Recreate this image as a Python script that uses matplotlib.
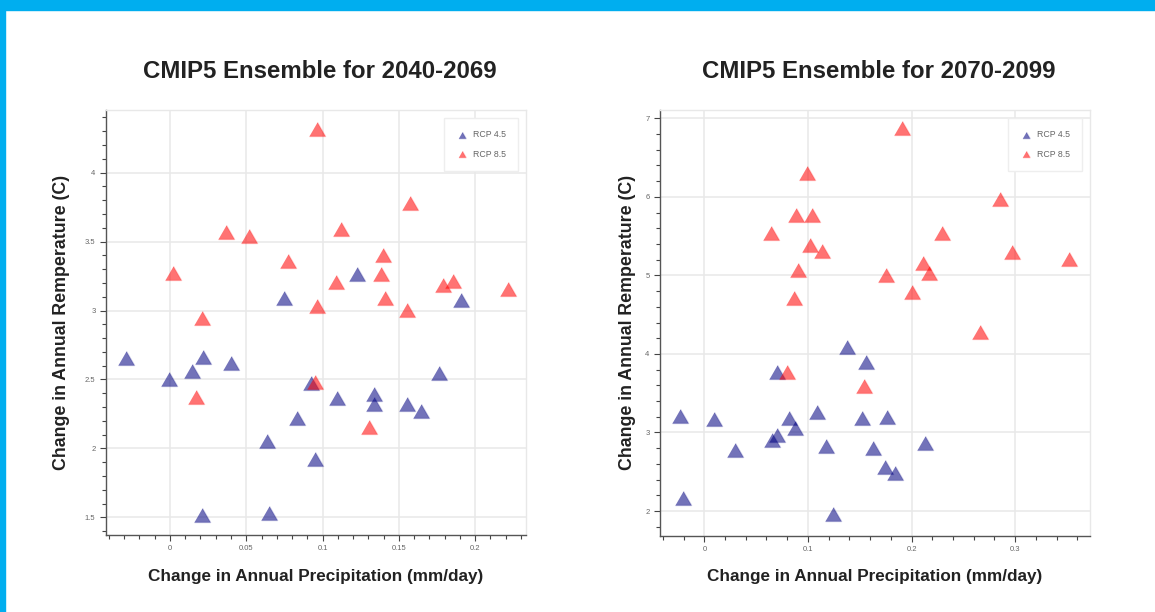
import numpy as np
import matplotlib.pyplot as plt
from matplotlib.ticker import MultipleLocator, FormatStrFormatter

# CMIP5 ensemble, 2040-2069
mid_rcp45_precip = [0.0747, 0.1228, 0.1907, -0.029, -0.0007, 0.0142, 0.0218, 0.040, 0.0922, 0.1097,
                    0.1339, 0.1339, 0.1556, 0.1643, 0.1763, 0.083, 0.0633, 0.095, 0.0212, 0.0649]
mid_rcp45_temp = [3.094, 3.268, 3.075, 2.657, 2.502, 2.562, 2.664, 2.616, 2.471, 2.362,
                  2.393, 2.321, 2.321, 2.270, 2.548, 2.217, 2.053, 1.920, 1.517, 1.533]
mid_rcp85_precip = [0.0961, 0.157, 0.0367, 0.0518, 0.112, 0.0017, 0.0775, 0.1394, 0.1383, 0.1088,
                    0.1409, 0.0961, 0.0212, 0.1553, 0.179, 0.1857, 0.2213, 0.095, 0.0168, 0.1302]
mid_rcp85_temp = [4.319, 3.78, 3.57, 3.54, 3.594, 3.273, 3.357, 3.40, 3.263, 3.207,
                  3.094, 3.033, 2.949, 3.002, 3.183, 3.212, 3.159, 2.478, 2.374, 2.157]

# CMIP5 ensemble, 2070-2099
late_rcp45_precip = [0.1374, 0.1558, 0.0699, -0.0235, 0.0094, 0.0296, 0.0657, 0.0699, 0.0821, 0.0876,
                     0.1091, 0.1175, 0.1525, 0.1766, 0.1625, 0.1744, 0.1841, 0.213, -0.0203, 0.1239]
late_rcp45_temp = [4.084, 3.893, 3.774, 3.214, 3.167, 2.777, 2.904, 2.968, 3.18, 3.053,
                   3.257, 2.832, 3.18, 3.20, 2.806, 2.564, 2.488, 2.862, 2.162, 1.958]
late_rcp85_precip = [0.1905, 0.0994, 0.0882, 0.1037, 0.0641, 0.102, 0.1133, 0.0901, 0.0869, 0.1754,
                     0.2002, 0.2108, 0.2169, 0.2291, 0.2854, 0.2973, 0.2661, 0.352, 0.0801, 0.1545]
late_rcp85_temp = [6.873, 6.30, 5.769, 5.769, 5.536, 5.387, 5.31, 5.069, 4.716, 5.005,
                   4.792, 5.154, 5.034, 5.536, 5.973, 5.30, 4.283, 5.21, 3.774, 3.592]

titles = ["CMIP5 Ensemble for 2040-2069", "CMIP5 Ensemble for 2070-2099"]
xlabel = "Change in Annual Precipitation (mm/day)"
ylabel = "Change in Annual Remperature (C)"
labels = ["RCP 4.5", "RCP 8.5"]

plt.rcParams['font.family'] = ['Liberation Sans', 'DejaVu Sans']

tri = [(-1, -0.866), (1, -0.866), (0, 0.866)]
blue = (0.0, 0.0, 0.5)
red = (1.0, 0.0, 0.0)

fig = plt.figure(figsize=(11.55, 6.12), dpi=100)
fig.patch.set_facecolor('white')
# cyan frame strips
fig.patches.append(plt.Rectangle((0, 1 - 10 / 612), 1, 10 / 612, transform=fig.transFigure,
                                 color='#00aeef', zorder=0))
fig.patches.append(plt.Rectangle((0, 0), 5 / 1155, 1, transform=fig.transFigure,
                                 color='#00aeef', zorder=0))

panels = [
    dict(rect=[106 / 1155, 1 - 535 / 612, 420 / 1155, 425 / 612],
         xlim=(-0.0419, 0.2333), ylim=(1.372, 4.454),
         xmaj=0.05, xmin=0.01, ymaj=0.5, ymin=0.1,
         data=(mid_rcp45_precip, mid_rcp45_temp, mid_rcp85_precip, mid_rcp85_temp),
         ylab_x=62 / 1155),
    dict(rect=[660 / 1155, 1 - 535.7 / 612, 430 / 1155, 425.7 / 612],
         xlim=(-0.0428, 0.3723), ylim=(1.686, 7.106),
         xmaj=0.1, xmin=0.02, ymaj=1, ymin=0.2,
         data=(late_rcp45_precip, late_rcp45_temp, late_rcp85_precip, late_rcp85_temp),
         ylab_x=627 / 1155),
]

for p, title in zip(panels, titles):
    ax = fig.add_axes(p['rect'])
    x45, y45, x85, y85 = p['data']
    ax.scatter(x45, y45, marker=tri, s=135, facecolor=blue + (0.55,),
               edgecolor=blue + (0.2,), linewidth=1.0, label=labels[0], zorder=3)
    ax.scatter(x85, y85, marker=tri, s=135, facecolor=red + (0.55,),
               edgecolor=red + (0.2,), linewidth=1.0, label=labels[1], zorder=3)
    ax.set_xlim(*p['xlim'])
    ax.set_ylim(*p['ylim'])

    ax.xaxis.set_major_locator(MultipleLocator(p['xmaj']))
    ax.xaxis.set_minor_locator(MultipleLocator(p['xmin']))
    ax.yaxis.set_major_locator(MultipleLocator(p['ymaj']))
    ax.yaxis.set_minor_locator(MultipleLocator(p['ymin']))
    ax.xaxis.set_major_formatter(FormatStrFormatter('%g'))
    ax.yaxis.set_major_formatter(FormatStrFormatter('%g'))
    ax.tick_params(which='major', direction='out', length=4.5, width=0.8, color='#444444',
                   labelsize=5.5, labelcolor='#666666', pad=3)
    ax.tick_params(which='minor', direction='out', length=2.8, width=0.8, color='#444444')

    ax.grid(True, which='major', color='#e8e8e8', linewidth=1.1, zorder=0)
    ax.set_axisbelow(True)
    for side in ['top', 'right']:
        ax.spines[side].set_color('#e8e8e8')
        ax.spines[side].set_linewidth(1.0)
    for side in ['left', 'bottom']:
        ax.spines[side].set_color('#555555')
        ax.spines[side].set_linewidth(1.0)

    leg = ax.legend(loc='upper right', fontsize=6.3, markerscale=0.45, labelspacing=1.2,
                    handletextpad=0.6, borderpad=1.4, borderaxespad=0.9, fancybox=False,
                    framealpha=1, edgecolor='#eeeeee', handlelength=1.3)
    for t in leg.get_texts():
        t.set_color('#666666')

    r = p['rect']
    cx = r[0] + r[2] / 2
    fig.text(cx + 4 / 1155, 1 - 72 / 612, title, ha='center', va='center',
             fontsize=17.3, fontweight='bold', color='#222222')
    fig.text(cx, 1 - 577 / 612, xlabel, ha='center', va='center',
             fontsize=12.3, fontweight='bold', color='#222222')
    fig.text(p['ylab_x'], r[1] + r[3] / 2, ylabel, ha='center', va='center', rotation=90,
             fontsize=12.8, fontweight='bold', color='#222222')

fig.savefig('out.png', dpi=100)
